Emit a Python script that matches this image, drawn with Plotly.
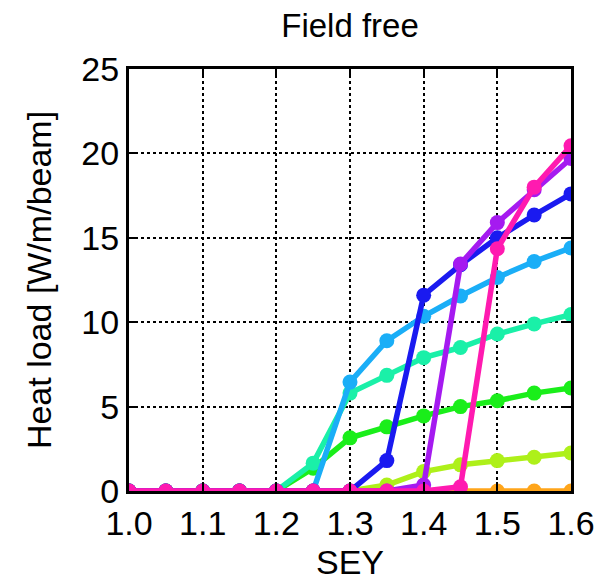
import plotly.graph_objects as go

sey = [1.0, 1.05, 1.1, 1.15, 1.2, 1.25, 1.3, 1.35, 1.4, 1.45, 1.5, 1.55, 1.6]

s_orange = [0, 0, 0, 0, 0, 0, 0, 0, 0, 0, 0, 0, 0]
s_yellowgreen = [0, 0, 0, 0, 0, 0, 0, 0.35, 1.15, 1.55, 1.8, 2.0, 2.25]
s_green = [0, 0, 0, 0, 0, 1.35, 3.15, 3.8, 4.45, 5.0, 5.35, 5.8, 6.1]
s_aqua = [0, 0, 0, 0, 0, 1.65, 5.8, 6.85, 7.9, 8.5, 9.3, 9.9, 10.45]
s_lightblue = [0, 0, 0, 0, 0, 0, 6.45, 8.9, 10.35, 11.55, 12.65, 13.6, 14.4]
s_blue = [0, 0, 0, 0, 0, 0, 0, 1.8, 11.6, 13.4, 15.0, 16.35, 17.6]
s_purple = [0, 0, 0, 0, 0, 0, 0, 0, 0.35, 13.45, 15.9, 17.85, 19.7]
s_pink = [0, 0, 0, 0, 0, 0, 0, 0, 0, 0.25, 14.35, 18.0, 20.45]

series = [
    (s_orange, "#FFA51A"),
    (s_yellowgreen, "#AEF01A"),
    (s_green, "#1AEE1A"),
    (s_aqua, "#1AF0A8"),
    (s_lightblue, "#1AAEF7"),
    (s_blue, "#1A1AF0"),
    (s_purple, "#A51AF0"),
    (s_pink, "#FF1AB0"),
]

fig = go.Figure()
for vals, col in series:
    fig.add_trace(go.Scatter(
        x=sey, y=vals, mode="lines+markers",
        line=dict(color=col, width=5.5),
        marker=dict(color=col, size=15),
        showlegend=False,
    ))

font_family = "Liberation Sans Narrow, Arial Narrow, Liberation Sans, Arial"

fig.update_layout(
    width=599, height=579,
    margin=dict(l=121, r=36, t=61, b=96),
    plot_bgcolor="white", paper_bgcolor="white",
    font=dict(family=font_family, size=34, color="black"),
    title=dict(text="Field free", x=0.571, xanchor="center", y=0.970, yanchor="middle",
               font=dict(family=font_family, size=33, color="black")),
)
fig.update_xaxes(
    range=[1.0, 1.6], tickvals=[1.0, 1.1, 1.2, 1.3, 1.4, 1.5, 1.6],
    ticktext=["1.0", "1.1", "1.2", "1.3", "1.4", "1.5", "1.6"],
    showline=True, linecolor="black", linewidth=3, mirror="ticks",
    ticks="inside", ticklen=9, tickwidth=2, tickcolor="black",
    showgrid=True, gridcolor="black", gridwidth=1.5, griddash="dot",
    zeroline=False,
    title=dict(text="SEY", standoff=10, font=dict(size=34)),
    tickfont=dict(size=34),
)
fig.update_yaxes(
    range=[0, 25], tickvals=[0, 5, 10, 15, 20, 25],
    showline=True, linecolor="black", linewidth=3, mirror="ticks",
    ticks="inside", ticklen=9, tickwidth=2, tickcolor="black",
    showgrid=True, gridcolor="black", gridwidth=1.5, griddash="dot",
    zeroline=False,
    title=dict(text="Heat load [W/m/beam]", standoff=20, font=dict(size=34)),
    tickfont=dict(size=34),
)

fig.write_html("out.html")
